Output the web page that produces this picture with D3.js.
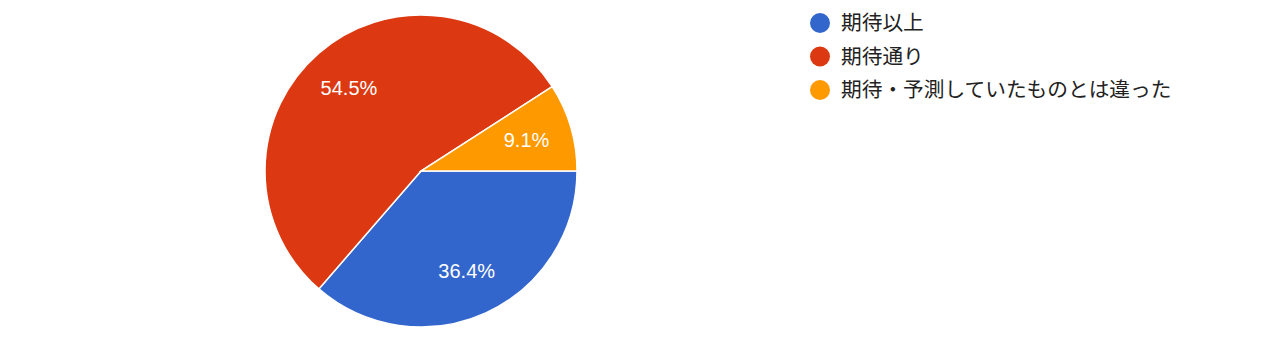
<!DOCTYPE html>
<html>
<head>
<meta charset="utf-8">
<script src="https://cdn.jsdelivr.net/npm/d3@7"></script>
<style>
  body { margin: 0; background: #fff; }
  svg { display: block; }
</style>
</head>
<body>
<svg id="chart" width="1280" height="338"></svg>
<script>
// answers and counts (36.4 / 54.5 / 9.1 %)
const labels = ["期待以上", "期待通り", "期待・予測していたものとは違った"];
const counts = [4, 6, 1];
const colors = ["#3366cc", "#dc3912", "#ff9900"];

const svg = d3.select("#chart");
const cx = 421, cy = 171, radius = 156;

const total = d3.sum(counts);
const pie = d3.pie()
    .sort(null)
    .startAngle(Math.PI / 2)
    .endAngle(Math.PI / 2 + 2 * Math.PI);

const arcs = pie(counts);
const arc = d3.arc().innerRadius(0).outerRadius(radius);
const labelArc = d3.arc().innerRadius(110).outerRadius(110);

const g = svg.append("g").attr("transform", "translate(" + cx + "," + cy + ")");

g.selectAll("path")
    .data(arcs)
    .enter().append("path")
        .attr("d", arc)
        .attr("fill", (d, i) => colors[i])
        .attr("stroke", "#fff")
        .attr("stroke-width", 1.5);

g.selectAll("text")
    .data(arcs)
    .enter().append("text")
        .attr("transform", d => "translate(" + labelArc.centroid(d) + ")")
        .attr("text-anchor", "middle")
        .attr("dy", "0.36em")
        .attr("fill", "#fff")
        .style("font-family", "Arial, 'Liberation Sans', sans-serif")
        .style("font-size", "20px")
        .text(d => (d.data / total * 100).toFixed(1) + "%");

// legend
const legend = svg.append("g").attr("transform", "translate(820,23)");
const item = legend.selectAll("g")
    .data(labels)
    .enter().append("g")
        .attr("transform", (d, i) => "translate(0," + (i * 33.5) + ")");

item.append("circle")
    .attr("r", 10)
    .attr("fill", (d, i) => colors[i]);

item.append("text")
    .attr("x", 21)
    .attr("dy", "0.36em")
    .attr("fill", "#222")
    .style("font-family", "'Noto Sans CJK JP', sans-serif")
    .style("font-size", "20.7px")
    .text(d => d);
</script>
</body>
</html>
